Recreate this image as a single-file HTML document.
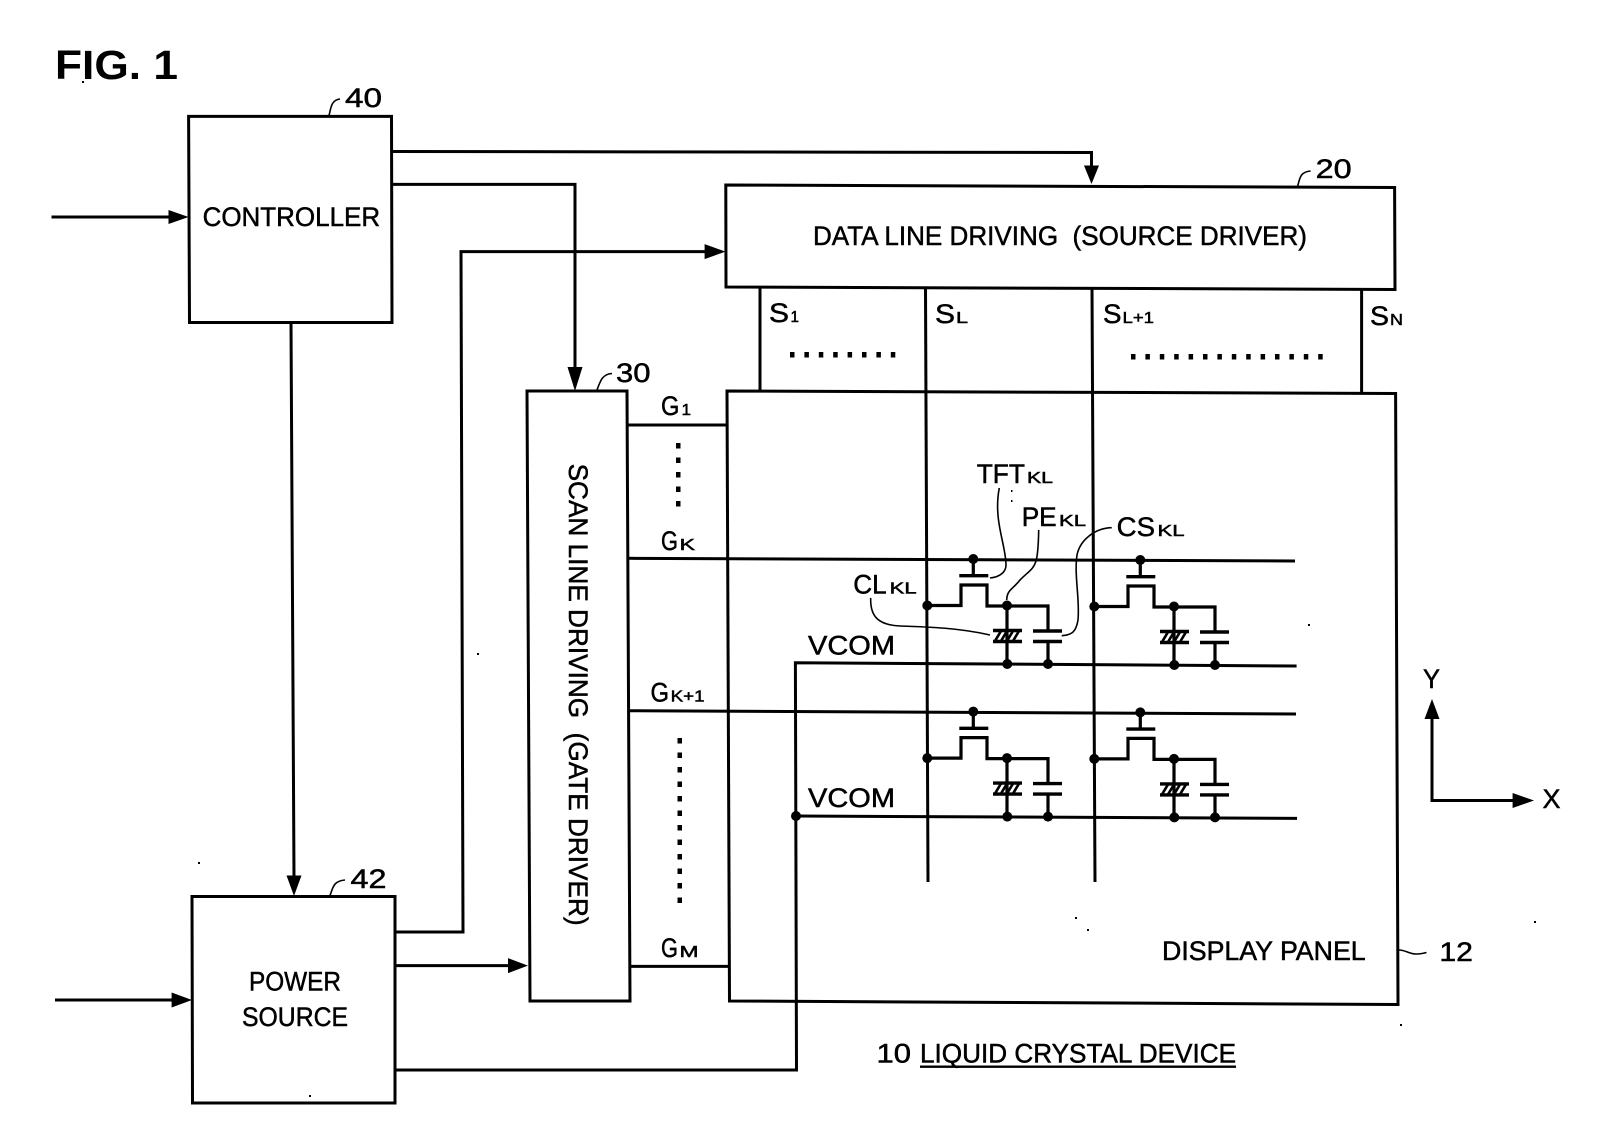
<!DOCTYPE html>
<html><head><meta charset="utf-8"><style>
html,body{margin:0;padding:0;background:#fff}
svg{display:block}
text{font-family:"Liberation Sans",sans-serif;fill:#000;stroke:#000;stroke-width:.5}
.m{font-size:27px}
.s{font-size:16px}
</style></head><body>
<svg width="1616" height="1140" viewBox="0 0 1616 1140" xmlns="http://www.w3.org/2000/svg">
<rect width="1616" height="1140" fill="#fff"/>
<defs>
<g id="cell">
<path d="M927,605.5H961V585H987V606H1048V631M1007,606V664M1048,641V664M973.3,559V575.7" fill="none" stroke="#000" stroke-width="3.2"/>
<path d="M959.3,575.7H988.3M1033,631H1062M1033,641.5H1062M993,630.5H1022M993,641.5H1022" fill="none" stroke="#000" stroke-width="3.4"/>
<path d="M995,641L1001,631M1001,641L1007,631M1007,641L1013,631M1013,641L1019,631" fill="none" stroke="#000" stroke-width="2.6"/>
<circle cx="927.3" cy="605.5" r="5"/><circle cx="973.3" cy="559" r="5"/><circle cx="1007" cy="605.5" r="5"/><circle cx="1007.3" cy="664" r="5"/><circle cx="1048" cy="664" r="5"/>
</g>
</defs>

<!-- boxes -->
<g fill="none" stroke="#000" stroke-width="3">
<polygon points="188.6,116.4 391.5,116.4 392,322.5 189.5,322.5"/>
<polygon points="192,896.5 395,896.5 395,1103 192.5,1103"/>
<polygon points="725.8,185 1394.6,187.5 1395,289.5 726,287"/>
<polygon points="527,391 627,391 630,1001 530,1001"/>
<polygon points="727,391 1395.6,393.5 1398,1004.5 729.5,1001"/>
</g>

<!-- connectors -->
<g fill="none" stroke="#000" stroke-width="3">
<path d="M392,151.5L1091.5,152.5V170"/>
<path d="M392,184.4H575V370"/>
<path d="M395,932H463L461,251.6H706"/>
<path d="M291,322.5L294,878"/>
<path d="M51.5,217H170"/>
<path d="M55,1000H173"/>
<path d="M395,965.6H510"/>
<path d="M395,1070H796.5L795.4,662.7L1296.6,666"/>
<path d="M796,816L1297,818.4"/>
<path d="M627,425H727"/>
<path d="M628,558.3L1295,561"/>
<path d="M629,710.7L1296,714"/>
<path d="M630,966.4H729"/>
<path d="M760,287V391"/>
<path d="M925.5,288L928,882"/>
<path d="M1092,288L1095,882"/>
<path d="M1361.6,289V393"/>
<path d="M1432,719V800.5H1514"/>
</g>
<g fill="#000">
<polygon points="188.6,217 168.5,210 168.5,224"/>
<polygon points="725.5,251.6 704.6,244.1 704.6,259.1"/>
<polygon points="575,391 567.5,367 582.5,367"/>
<polygon points="294,896 286.5,875.5 301.5,875.5"/>
<polygon points="1091.5,184 1084,165.5 1099,165.5"/>
<polygon points="528,965.6 508,958.1 508,973.1"/>
<polygon points="192,1000 171.6,992.5 171.6,1007.5"/>
<polygon points="1432,699 1424.5,719 1439.5,719"/>
<polygon points="1534,800.5 1512.6,793 1512.6,808"/>
<circle cx="796" cy="816" r="5"/>
</g>

<!-- cells -->
<use href="#cell"/>
<use href="#cell" transform="translate(167,1)"/>
<use href="#cell" transform="translate(0,152.6)"/>
<use href="#cell" transform="translate(167,153.4)"/>

<!-- leaders -->
<g fill="none" stroke="#000" stroke-width="1.6">
<path d="M329,115.6C331,108 331,100 340,99"/>
<path d="M597,390C600,382 602,374 612,373.5"/>
<path d="M1297.7,186C1300,178 1300,172 1310.6,171"/>
<path d="M330,895.5C333,888 333,881 345,880"/>
<path d="M1399,950C1408,950 1410,957 1426.5,952.5"/>
<path d="M999.3,488C993,520 1006,545 1006,565C1006,572 1000,577 990,578"/>
<path d="M1038.7,530C1038,570 1035,565 1020,580C1012,590 1007,590 1006.7,600"/>
<path d="M1111.7,527.7C1095,528 1080,540 1077,555C1074,575 1080,600 1078,620C1076,632 1072,635 1061.7,635.7"/>
<path d="M870.7,598C870,618 880,625 900,626C930,627 960,628 990,635"/>
</g>

<!-- dot rows -->
<g fill="#000">
<rect x="790" y="352" width="4.5" height="5.5"/><rect x="804.4" y="352" width="4.5" height="5.5"/><rect x="818.8" y="352" width="4.5" height="5.5"/><rect x="833.2" y="352" width="4.5" height="5.5"/><rect x="847.6" y="352" width="4.5" height="5.5"/><rect x="862" y="352" width="4.5" height="5.5"/><rect x="876.4" y="352" width="4.5" height="5.5"/><rect x="890.8" y="352" width="4.5" height="5.5"/>
<rect x="1131" y="354" width="4.5" height="5.5"/><rect x="1145.4" y="354" width="4.5" height="5.5"/><rect x="1159.8" y="354" width="4.5" height="5.5"/><rect x="1174.2" y="354" width="4.5" height="5.5"/><rect x="1188.6" y="354" width="4.5" height="5.5"/><rect x="1203" y="354" width="4.5" height="5.5"/><rect x="1217.4" y="354" width="4.5" height="5.5"/><rect x="1231.8" y="354" width="4.5" height="5.5"/><rect x="1246.2" y="354" width="4.5" height="5.5"/><rect x="1260.6" y="354" width="4.5" height="5.5"/><rect x="1275" y="354" width="4.5" height="5.5"/><rect x="1289.4" y="354" width="4.5" height="5.5"/><rect x="1303.8" y="354" width="4.5" height="5.5"/><rect x="1318.2" y="354" width="4.5" height="5.5"/>
<rect x="676" y="443" width="4.5" height="5.5"/><rect x="676" y="457.5" width="4.5" height="5.5"/><rect x="676" y="472" width="4.5" height="5.5"/><rect x="676" y="486.5" width="4.5" height="5.5"/><rect x="676" y="501" width="4.5" height="5.5"/>
<rect x="677.5" y="738" width="4.5" height="5.5"/><rect x="677.5" y="752.5" width="4.5" height="5.5"/><rect x="677.5" y="767" width="4.5" height="5.5"/><rect x="677.5" y="781.5" width="4.5" height="5.5"/><rect x="677.5" y="796" width="4.5" height="5.5"/><rect x="677.5" y="810.5" width="4.5" height="5.5"/><rect x="677.5" y="825" width="4.5" height="5.5"/><rect x="677.5" y="839.5" width="4.5" height="5.5"/><rect x="677.5" y="854" width="4.5" height="5.5"/><rect x="677.5" y="868.5" width="4.5" height="5.5"/><rect x="677.5" y="883" width="4.5" height="5.5"/><rect x="677.5" y="897.5" width="4.5" height="5.5"/>
<!-- scan specks -->
<rect x="477" y="653" width="2" height="2"/><rect x="198" y="862" width="2" height="2"/><rect x="309" y="1095" width="2" height="2"/><rect x="1308" y="624" width="2" height="2"/><rect x="1075" y="917" width="2" height="2"/><rect x="1087" y="929" width="2" height="2"/><rect x="1534" y="921" width="2" height="2"/><rect x="1400" y="1024" width="2" height="2"/><rect x="1011" y="490" width="1.5" height="2"/><rect x="1011" y="500" width="1.5" height="2"/><rect x="82" y="81" width="2" height="2"/>
</g>

<!-- text -->
<text x="55" y="79" font-size="41" font-weight="bold" textLength="123" lengthAdjust="spacingAndGlyphs" style="stroke-width:0">FIG. 1</text>
<text class="m" x="202.6" y="226" textLength="177.5" lengthAdjust="spacingAndGlyphs">CONTROLLER</text>
<text class="m" x="813" y="245" textLength="494" lengthAdjust="spacingAndGlyphs" xml:space="preserve">DATA LINE DRIVING  (SOURCE DRIVER)</text>
<text class="m" transform="translate(569,463.6) rotate(90)" textLength="462" lengthAdjust="spacingAndGlyphs" xml:space="preserve">SCAN LINE DRIVING  (GATE DRIVER)</text>
<text class="m" x="249" y="990.7" textLength="92" lengthAdjust="spacingAndGlyphs">POWER</text>
<text class="m" x="242" y="1026" textLength="106" lengthAdjust="spacingAndGlyphs">SOURCE</text>
<text class="m" x="1162" y="960" textLength="203.7" lengthAdjust="spacingAndGlyphs">DISPLAY PANEL</text>
<text class="m" x="876.5" y="1062.7" textLength="34.5" lengthAdjust="spacingAndGlyphs">10</text>
<text class="m" x="920" y="1062.7" textLength="316" lengthAdjust="spacingAndGlyphs">LIQUID CRYSTAL DEVICE</text>
<rect x="920" y="1065.5" width="316" height="2.4"/>

<text class="m" x="345" y="107" textLength="37" lengthAdjust="spacingAndGlyphs">40</text>
<text class="m" x="616" y="382" textLength="34.5" lengthAdjust="spacingAndGlyphs">30</text>
<text class="m" x="1315.7" y="178" textLength="36" lengthAdjust="spacingAndGlyphs">20</text>
<text class="m" x="350.5" y="888" textLength="36" lengthAdjust="spacingAndGlyphs">42</text>
<text class="m" x="1439.4" y="961" textLength="33.6" lengthAdjust="spacingAndGlyphs">12</text>
<text class="m" x="1423" y="688" textLength="17" lengthAdjust="spacingAndGlyphs">Y</text>
<text class="m" x="1542.5" y="808" textLength="18" lengthAdjust="spacingAndGlyphs">X</text>
<text class="m" x="808" y="654.4" textLength="87" lengthAdjust="spacingAndGlyphs">VCOM</text>
<text class="m" x="808" y="807" textLength="87" lengthAdjust="spacingAndGlyphs">VCOM</text>

<text class="m" x="769" y="322" textLength="20" lengthAdjust="spacingAndGlyphs">S</text><text class="s" x="790.5" y="322" textLength="8.5" lengthAdjust="spacingAndGlyphs">1</text>
<text class="m" x="935" y="323" textLength="20" lengthAdjust="spacingAndGlyphs">S</text><text class="s" x="956" y="323" textLength="12" lengthAdjust="spacingAndGlyphs">L</text>
<text class="m" x="1103" y="323" textLength="18.5" lengthAdjust="spacingAndGlyphs">S</text><text class="s" x="1122.5" y="323" textLength="31.5" lengthAdjust="spacingAndGlyphs">L+1</text>
<text class="m" x="1370" y="325" textLength="19" lengthAdjust="spacingAndGlyphs">S</text><text class="s" x="1390" y="325" textLength="13" lengthAdjust="spacingAndGlyphs">N</text>

<text class="m" x="661" y="415" textLength="18.4" lengthAdjust="spacingAndGlyphs">G</text><text class="s" x="681.5" y="415" textLength="9.5" lengthAdjust="spacingAndGlyphs">1</text>
<text class="m" x="661" y="550" textLength="17" lengthAdjust="spacingAndGlyphs">G</text><text class="s" x="679.5" y="550" textLength="15.5" lengthAdjust="spacingAndGlyphs">K</text>
<text class="m" x="650.5" y="701.6" textLength="18.5" lengthAdjust="spacingAndGlyphs">G</text><text class="s" x="670.6" y="701.6" textLength="34" lengthAdjust="spacingAndGlyphs">K+1</text>
<text class="m" x="661" y="957" textLength="17" lengthAdjust="spacingAndGlyphs">G</text><text class="s" x="679.5" y="957" textLength="19" lengthAdjust="spacingAndGlyphs">M</text>

<text class="m" x="976.7" y="483" textLength="48.3" lengthAdjust="spacingAndGlyphs">TFT</text><text class="s" x="1027" y="483" textLength="26" lengthAdjust="spacingAndGlyphs">KL</text>
<text class="m" x="1021.7" y="526" textLength="35" lengthAdjust="spacingAndGlyphs">PE</text><text class="s" x="1059" y="526" textLength="27" lengthAdjust="spacingAndGlyphs">KL</text>
<text class="m" x="1116.7" y="536" textLength="38.3" lengthAdjust="spacingAndGlyphs">CS</text><text class="s" x="1157.5" y="536" textLength="27" lengthAdjust="spacingAndGlyphs">KL</text>
<text class="m" x="853.3" y="593.3" textLength="33.4" lengthAdjust="spacingAndGlyphs">CL</text><text class="s" x="889.7" y="593.3" textLength="27" lengthAdjust="spacingAndGlyphs">KL</text>
</svg>
</body></html>
